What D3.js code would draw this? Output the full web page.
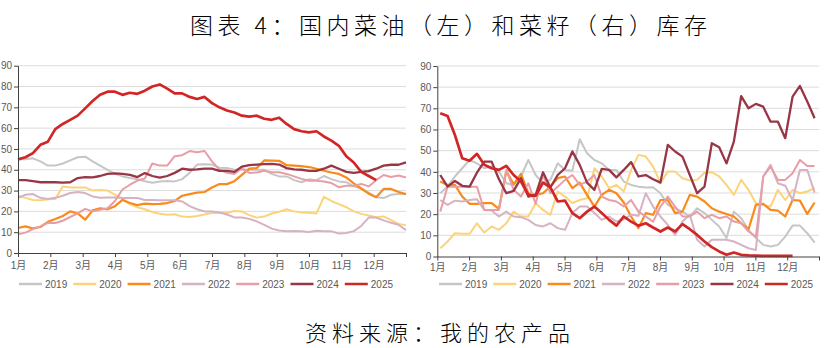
<!DOCTYPE html>
<html><head><meta charset="utf-8">
<script src="https://cdn.jsdelivr.net/npm/d3@7"></script>
<style>body{margin:0;background:#fff} svg{display:block}</style>
</head><body>
<svg id="c" width="826" height="348"></svg>
<script>
// ---- data ----
const months = ["1月","2月","3月","4月","5月","6月","7月","8月","9月","10月","11月","12月"];
const years = ["2019","2020","2021","2022","2023","2024","2025"];
const yTicks = [0,10,20,30,40,50,60,70,80,90];

// 国内菜油库存 (left, weekly)
const oil2019 = [45,45,45.5,44,42,42,43,44.5,46,46.3,44,42,40,38,36.8,36,35.4,34.5,33.8,34.4,34.6,34.4,35.5,38.5,42.5,42.7,42.5,41,40.8,40,40,40,40,40,38,36.8,36.8,35,34,35.4,35,37,35.5,34.4,34,32,31,29,26.8,26.4,28,28.3,28.3];
const oil2020 = [27.5,26.5,25.5,25.3,25.8,26,32,31.5,31.5,31.5,30,30.3,30,28,26,23.5,22,21,19.7,18.9,18.4,18.6,17.5,17.3,17.8,18.5,19.2,19.2,19.2,20.2,20,18.2,17,17.5,19,19.8,21,20,19.5,19.3,19,27,25,23.5,22,20,18.8,18,17.2,17.6,15.8,14,13.4];
const oil2021 = [12,12.8,11.8,12.5,15,16.3,17.8,20,19,16,20.5,21.5,21,22.5,25.5,24,23,23.7,23.5,23.6,24,25,27.5,28.3,29,29.3,31.5,33.1,33.1,34.5,37.5,40.5,40.8,44.5,44.4,44.3,42.2,42,41.7,41.3,40.5,39.5,38.7,38,36.3,33.5,31,28.5,26.8,30.8,30.8,29.3,28.3];
const oil2022 = [26.5,28,28.3,26.5,26,26.5,27.5,28.8,29.3,28.8,27.2,26.5,26.7,26.7,26.4,26.4,26.4,25.5,25.5,25.3,25.3,25.3,24.8,22.5,21,20,20,19.5,18.5,17.1,17.1,16.4,15.2,13.5,11.7,10.8,10.4,10.6,10.4,10.1,10.7,10.4,10.4,9.4,9.6,10.5,13,17,17,15.7,14.5,13.6,11];
const oil2023 = [9,9.8,11.5,12.8,14.5,14.4,15.5,17.3,19,21.2,20,20.8,21.5,25,30.5,32.8,34.8,35.8,43,42,42,46.5,47,49,48.4,49,44,40,38.5,38,40.8,38.5,38.7,39.5,38.8,38.8,38,36.8,35.6,34.7,34.7,34.4,33.6,31.6,32.3,32.3,33.2,32,35,37.5,36.5,37.2,36.3];
const oil2024 = [35,35,34.5,34,34,34,33.8,34,36,36.5,36.3,37,38,38.3,38,37.5,36.5,38.4,37,36.2,37,38.5,40.5,40,40.2,40.5,40.5,39.5,39.5,39,41.5,42.2,42.5,42.7,42.8,42.5,40.8,40.2,40,39.5,39.5,40.5,42,40.5,39,38.5,39,39.3,40.5,42,42.4,42.4,43.5];
const oil2025 = [45,46,48,52,53.5,59.5,62,64,66,69.5,73,76,77.5,77.5,76,77,76.5,78,80,81,79,76.7,76.7,75,74,75,72,70,68.5,67.5,66,65.5,66,64.5,64,65,62,59.5,58.5,58,58.5,56,54,51.5,46.5,43.5,39,37,35];

// 菜籽库存 (right, weekly)
const seed2019 = [29.9,33,37.8,41.7,45.6,44,41.7,42.5,40.1,34.6,33.8,37.8,45.6,38.5,34.6,36.2,44,40.9,40.5,55.4,48.8,45.6,44,40.9,40.9,35.4,33.8,33,32.6,32.7,29.9,24.4,22.8,21.2,18.9,22.8,20.5,17.3,14.2,8.7,21.2,18.1,12.6,8.7,5.5,4.7,5.5,9.4,14.6,14.6,11,6.6];
const seed2020 = [3.9,7.1,11,10.7,10.7,15.7,11.3,14.2,12.6,15.7,21.2,18.9,18.9,25.2,22,19.7,30.7,28.3,25.2,26.7,27.5,41.7,37.8,32.3,33.8,30.7,40.9,48,47.2,42.5,34.6,40.1,40.1,37,35.9,36.2,39.6,39.8,37.8,33.8,29.1,36.2,31.5,25.2,24.4,23.6,31.5,26.7,31.5,29.9,30.7,32.3];
const seed2021 = [35.4,33.8,33.8,28.3,24.9,24.9,25.2,25.2,22.5,40.4,34.1,39,29.9,29.1,29.9,33,37,37.8,32.3,34.9,29.1,23.6,29.1,31.5,29.9,25.5,18.9,13.4,20.5,19.7,26.7,26.7,20.5,21.2,29.1,28.3,26,22.8,21.2,20.1,18.9,15.7,12.9,24.4,24.9,22,21.7,18.9,26.7,26.4,20.1,25.5];
const seed2022 = [26.7,24.4,26.4,26,26.7,27.1,22,21.7,18.9,21.2,18.9,18.6,17.3,14.9,14.2,15.7,13.4,12.6,20.5,23.6,23.6,20.5,17.3,18.9,16.5,17.6,19.7,19.2,29.9,23.6,18.9,14.9,10.2,16.5,19.7,7.9,4.7,7.9,7.9,7.9,7.1,5.5,3.9,3.1,37.8,43.3,34.6,33.4,26.7,40.9,40.9,30.2];
const seed2023 = [21.2,33,33,33,33,33,22,22,22,40.9,31.5,28.3,34.6,24.9,38.5,29.9,33,36.2,38.5,33.8,35.4,38.5,28.3,26.7,26,23.6,26.7,21.2,18.9,16.5,23.6,28.3,23.6,18.9,18.9,21.2,18.1,19.7,18.1,18.9,16.5,15.7,11.8,9.4,37.8,42.5,36.2,36.2,39.3,45.6,42.8,42.8];
const seed2024 = [38.5,33,35.7,33.4,33,39.6,44.8,44.8,36.5,29.9,31,37,28.3,29.1,39.8,32.6,38.5,41.7,49.6,43.3,34.9,31.5,41.4,40.9,37.4,40.9,44.6,37.8,38.5,36.5,34.9,52.7,49.6,47.2,38.5,29.9,33,53.5,51.6,44,54.3,75.8,70,72.1,70.8,63.7,63.7,55.9,75.5,80.6,73.2,65.3];
const seed2025 = [67.7,66.4,57.4,46.4,45.2,48.5,43.3,41.7,40.9,42.8,38.5,35.4,29.1,28.6,34.9,32.7,26,26.4,20.5,18.1,21.2,23.6,20.5,17.3,14.6,18.9,16.5,14.6,15.7,13.7,11.8,13.7,11.8,15.3,12.9,10.2,7.1,4.4,2.4,0.8,1.9,0.8,0.5,0.4,0.3,0.3,0.3,0.3,0.3];

// ---- styles ----
const colors = ["#c6c6c6","#fbd47a","#f98a1c","#d6b2c3","#e79ea6","#983646","#d22626"];
const widths = [2,2,2.2,2,2,2.3,2.7];
const textColor = "#595959";
const font = "'Liberation Sans', 'Noto Sans CJK SC', sans-serif";

const svg = d3.select("#c");
svg.append("rect").attr("width",826).attr("height",348).attr("fill","#fff");

function drawChart(series, box) {
  const g = svg.append("g");
  const x = d3.scaleLinear().domain([0, 52]).range([box.x0, box.x1]);
  const y = d3.scaleLinear().domain([0, 90]).range([box.y1, box.y0]);

  g.selectAll("line.grid").data(yTicks.filter(v => v > 0)).join("line")
    .attr("class","grid")
    .attr("x1", box.x0).attr("x2", box.x1)
    .attr("y1", d => y(d)).attr("y2", d => y(d))
    .attr("stroke", "#dcdcdc").attr("stroke-width", 1);

  const line = d3.line().x((d, i) => x(i + box.offset)).y(d => y(d));
  series.forEach((s, k) => {
    g.append("path").datum(s).attr("d", line)
      .attr("fill", "none").attr("stroke", colors[k])
      .attr("stroke-width", widths[k]).attr("stroke-linejoin", "round");
  });

  const ya = g.append("g").attr("transform", `translate(${box.x0},0)`)
    .call(d3.axisLeft(y).tickValues(yTicks).tickSize(4).tickSizeOuter(0).tickPadding(2));
  const xa = g.append("g").attr("transform", `translate(0,${box.y1})`)
    .call(d3.axisBottom(x).tickValues(d3.range(13).map(m => m * 52 / 12))
      .tickSize(4).tickSizeOuter(0).tickPadding(box.xpad)
      .tickFormat((d, i) => months[i] || ""));
  [ya, xa].forEach(a => {
    a.selectAll("path,line").attr("stroke", "#404040");
    a.selectAll("text").attr("fill", textColor).style("font-family", font).style("font-size", "10px");
  });

  const lg = g.append("g");
  years.forEach((yr, k) => {
    const lx = box.legendX + k * 54.3;
    lg.append("line").attr("x1", lx).attr("x2", lx + 23).attr("y1", 284).attr("y2", 284)
      .attr("stroke", colors[k]).attr("stroke-width", 2.5);
    lg.append("text").attr("x", lx + 26).attr("y", 284).attr("dy", "0.35em")
      .attr("fill", textColor).style("font-family", font).style("font-size", "10px").text(yr);
  });
}

drawChart([oil2019, oil2020, oil2021, oil2022, oil2023, oil2024, oil2025],
  {x0: 18, x1: 406, y0: 65.7, y1: 253, offset: 0, xpad: 5, legendX: 19});
drawChart([seed2019, seed2020, seed2021, seed2022, seed2023, seed2024, seed2025],
  {x0: 437.3, x1: 819, y0: 66, y1: 256.5, offset: 0.4, xpad: 3, legendX: 439});

svg.append("text").attr("x", 190).attr("y", 26).attr("dy", "0.35em")
  .style("font-family", "'Noto Sans CJK SC', sans-serif").style("font-size", "23px")
  .style("font-weight", 300).style("letter-spacing", "4.5px").attr("fill", "#000")
  .text("图表 4：国内菜油（左）和菜籽（右）库存");
svg.append("text").attr("x", 305).attr("y", 333).attr("dy", "0.35em")
  .style("font-family", "'Noto Sans CJK SC', sans-serif").style("font-size", "22px")
  .style("font-weight", 300).style("letter-spacing", "5px").attr("fill", "#000")
  .text("资料来源：我的农产品");
</script>
</body></html>
